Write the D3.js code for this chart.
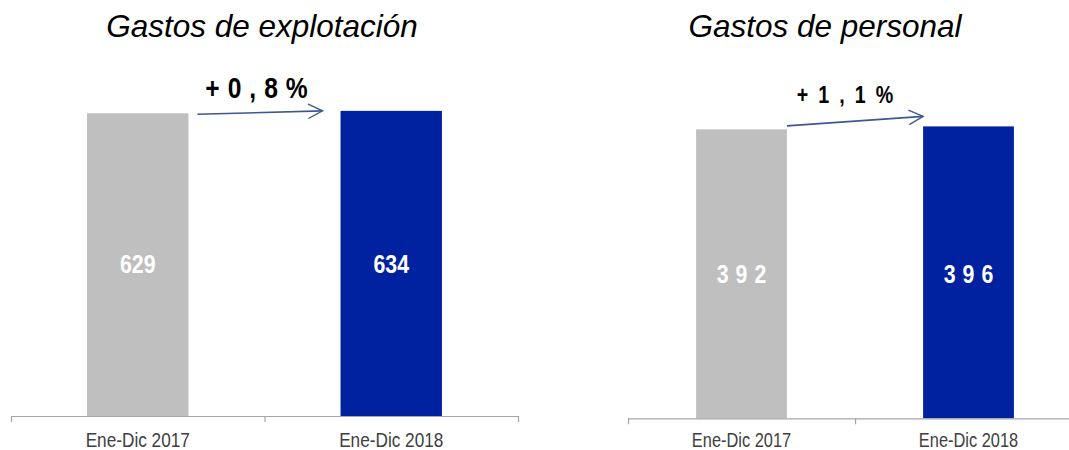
<!DOCTYPE html>
<html>
<head>
<meta charset="utf-8">
<script src="https://cdn.jsdelivr.net/npm/d3@7"></script>
<style>
  html, body { margin: 0; padding: 0; background: #fff; }
  svg { display: block; }
</style>
</head>
<body>
<svg id="chart" width="1069" height="450"></svg>
<script>
// ---- data ----
const categories = ["Ene-Dic 2017", "Ene-Dic 2018"];
const explotacionValues = [629, 634];
const personalValues = [392, 396];
const explotacionChange = "+0,8%";
const personalChange = "+1,1%";
const titles = ["Gastos de explotación", "Gastos de personal"];

// ---- colours & fonts ----
const barColors = ["#bfbfbf", "#0021a0"];
const arrowColor = "#3d5792";
const sans = "'Liberation Sans', Arial, sans-serif";
const NARROW = 0.82; // emulate Arial Narrow by horizontal compression

const panels = [
  {
    title: titles[0], values: explotacionValues, change: explotacionChange,
    x0: 11, x1: 518, base: 416, yMax: 700, yTop: 79.1,
    titleX: 262, titleSize: 31.5,
    valSize: 26, valLs: 0, valBaseline: 272.7,
    pctSize: 30, pctLs: 8, pctX: 256.5, pctY: 98,
    labelSize: 21, labelY: 446.5,
    arrow: { sx: 9, sy: 1, ex: -18, ey: 0 }
  },
  {
    title: titles[1], values: personalValues, change: personalChange,
    x0: 628, x1: 1082, base: 418.3, yMax: 450, yTop: 86.6,
    titleX: 825, titleSize: 31.5,
    valSize: 26, valLs: 7, valBaseline: 282.7,
    pctSize: 24, pctLs: 10, pctX: 845, pctY: 103.3,
    labelSize: 20, labelY: 446.5,
    arrow: { sx: 0, sy: -3.5, ex: 0, ey: -10 }
  }
];

const svg = d3.select("#chart");

// narrow text: centred at (x, y baseline), letter-spacing in screen px
function narrowText(parent, x, y, txt, size, weight, fill, ls) {
  const lsu = (ls || 0) / NARROW;
  parent.append("text")
    .attr("transform", `translate(${x + (ls || 0) / 2},${y}) scale(${NARROW},1)`)
    .attr("text-anchor", "middle")
    .style("font-family", sans)
    .style("font-weight", weight)
    .style("font-size", size + "px")
    .style("letter-spacing", lsu + "px")
    .attr("fill", fill)
    .text(txt);
}

panels.forEach(p => {
  const g = svg.append("g");
  const band = d3.scaleBand().domain(categories).range([p.x0, p.x1]).padding(0);
  const bar = d3.scaleBand().domain(categories).range([p.x0, p.x1])
    .paddingInner(0.6).paddingOuter(0.3);
  const y = d3.scaleLinear().domain([0, p.yMax]).range([p.base, p.yTop]);

  // title
  g.append("text")
    .attr("x", p.titleX).attr("y", 37)
    .attr("text-anchor", "middle")
    .style("font-family", sans).style("font-style", "italic")
    .style("font-size", p.titleSize + "px").attr("fill", "#000")
    .text(p.title);

  // bars
  g.selectAll("rect.bar").data(p.values).join("rect")
    .attr("class", "bar")
    .attr("x", (d, i) => bar(categories[i]))
    .attr("width", bar.bandwidth())
    .attr("y", d => y(d))
    .attr("height", d => y(0) - y(d))
    .attr("fill", (d, i) => barColors[i]);

  // value labels
  p.values.forEach((d, i) => {
    narrowText(g, bar(categories[i]) + bar.bandwidth() / 2, p.valBaseline,
      d3.format("d")(d), p.valSize, "bold", "#fff", p.valLs);
  });

  // axis line + boundary ticks
  g.append("line")
    .attr("x1", p.x0).attr("x2", p.x1)
    .attr("y1", p.base + 0.5).attr("y2", p.base + 0.5)
    .attr("stroke", "#a6a6a6").attr("stroke-width", 1.2);
  const bounds = categories.map(c => band(c)).concat([band(categories[categories.length - 1]) + band.bandwidth()]);
  g.selectAll("line.tick").data(bounds).join("line")
    .attr("class", "tick")
    .attr("x1", d => d + 0.5).attr("x2", d => d + 0.5)
    .attr("y1", p.base).attr("y2", p.base + 6)
    .attr("stroke", "#a6a6a6").attr("stroke-width", 1.2);

  // category labels
  categories.forEach(c => {
    narrowText(g, band(c) + band.bandwidth() / 2, p.labelY, c, p.labelSize, "normal", "#404040", 0);
  });

  // change arrow
  const sx = bar(categories[0]) + bar.bandwidth() + p.arrow.sx;
  const sy = y(p.values[0]) + p.arrow.sy;
  const ex = bar(categories[1]) + p.arrow.ex;
  const ey = y(p.values[1]) + p.arrow.ey;
  g.append("line")
    .attr("x1", sx).attr("y1", sy).attr("x2", ex).attr("y2", ey)
    .attr("stroke", arrowColor).attr("stroke-width", 1.6);
  const ang = Math.atan2(ey - sy, ex - sx);
  const hl = 16, hw = 0.47;
  const wing = s => [ex - hl * Math.cos(ang + s * hw), ey - hl * Math.sin(ang + s * hw)];
  const w1 = wing(1), w2 = wing(-1);
  g.append("path")
    .attr("d", `M${w1[0]},${w1[1]}L${ex},${ey}L${w2[0]},${w2[1]}`)
    .attr("fill", "none").attr("stroke", arrowColor).attr("stroke-width", 1.4);

  // change label
  narrowText(g, p.pctX, p.pctY, p.change, p.pctSize, "bold", "#000", p.pctLs);
});
</script>
</body>
</html>
